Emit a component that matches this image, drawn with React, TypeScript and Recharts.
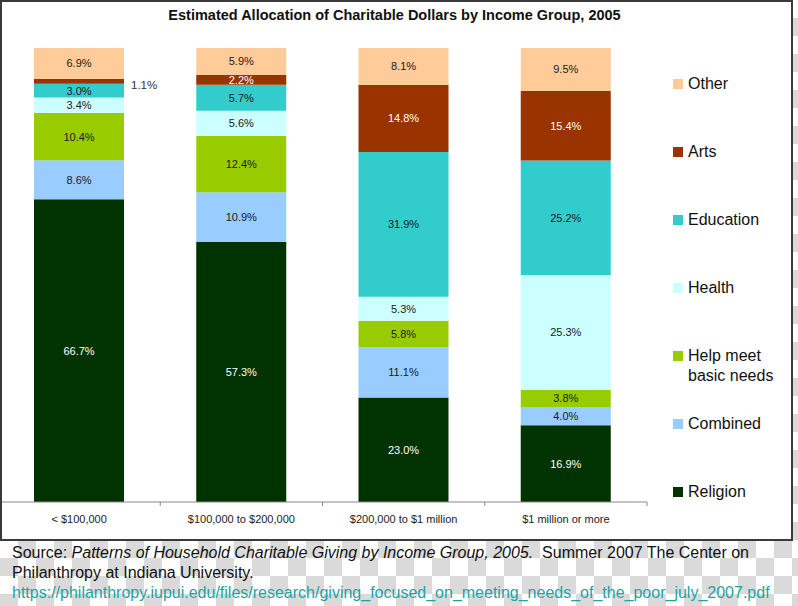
import React from 'react';
import { BarChart, Bar, XAxis, YAxis, LabelList } from 'recharts';

const groups = ['< $100,000', '$100,000 to $200,000', '$200,000 to $1 million', '$1 million or more'];

const religion = [66.7, 57.3, 23.0, 16.9];
const combined = [8.6, 10.9, 11.1, 4.0];
const basicNeeds = [10.4, 12.4, 5.8, 3.8];
const health = [3.4, 5.6, 5.3, 25.3];
const education = [3.0, 5.7, 31.9, 25.2];
const arts = [1.1, 2.2, 14.8, 15.4];
const other = [6.9, 5.9, 8.1, 9.5];

// stacking order, bottom to top
const series = [
  { key: 'religion', name: 'Religion', values: religion, fill: '#003300', text: '#ffffff' },
  { key: 'combined', name: 'Combined', values: combined, fill: '#99CCFF', text: '#1a1a1a' },
  { key: 'basicNeeds', name: 'Help meet basic needs', values: basicNeeds, fill: '#99CC00', text: '#1a1a1a' },
  { key: 'health', name: 'Health', values: health, fill: '#CCFFFF', text: '#1a1a1a' },
  { key: 'education', name: 'Education', values: education, fill: '#33CCCC', text: '#1a1a1a' },
  { key: 'arts', name: 'Arts', values: arts, fill: '#993300', text: '#ffffff' },
  { key: 'other', name: 'Other', values: other, fill: '#FFCC99', text: '#1a1a1a' },
];

const data = groups.map((g, i) => {
  const row: any = { group: g };
  series.forEach((s) => (row[s.key] = s.values[i]));
  return row;
});

const FONT = '"Liberation Sans", Arial, sans-serif';
const CHART_W = 789;
const CHART_H = 537;
const MARGIN = { top: 46, right: 144, left: -4, bottom: 0 };
const BAND = (CHART_W - MARGIN.left - MARGIN.right) / groups.length;

const makeLabel = (color: string) => (props: any) => {
  const { x, y, width, height, value } = props;
  const small = height < 7;
  return (
    <text
      x={small ? x + width + 7 : x + width / 2}
      y={y + height / 2}
      dy={small ? 8 : 4}
      textAnchor={small ? 'start' : 'middle'}
      fill={small ? '#333' : color}
      fontSize={small ? 11.5 : 11}
      fontFamily={FONT}
    >
      {Number(value).toFixed(1)}%
    </text>
  );
};

const GroupTick = (props: any) => {
  const { x, y, payload } = props;
  return (
    <g>
      <line x1={x + BAND / 2} x2={x + BAND / 2} y1={y - 8} y2={y - 4} stroke="#888" />
      <text x={x} y={y + 13} textAnchor="middle" fontSize={11} fontFamily={FONT} fill="#222">
        {payload.value}
      </text>
    </g>
  );
};

const LegendBox = () => (
  <div style={{ fontFamily: FONT, fontSize: 16, color: '#111' }}>
    {[...series].reverse().map((s) => (
      <div key={s.key} style={{ height: 68, display: 'flex', alignItems: 'flex-start' }}>
        <span
          style={{
            display: 'inline-block',
            width: 10,
            height: 10,
            background: s.fill,
            marginTop: 5,
            marginRight: 5,
            flex: 'none',
          }}
        />
        <span style={{ lineHeight: '20px', width: 100 }}>{s.name}</span>
      </div>
    ))}
  </div>
);

export default function App() {
  return (
    <div
      style={{
        position: 'absolute',
        left: 0,
        top: 0,
        width: 798,
        height: 606,
        background: 'repeating-conic-gradient(#dadada 0% 25%, #ffffff 0% 50%) 0 0 / 36px 36px',
        fontFamily: FONT,
      }}
    >
      <div
        style={{
          position: 'absolute',
          left: 0,
          top: 0,
          width: 793,
          height: 541,
          border: '2px solid #3a3a3a',
          boxSizing: 'border-box',
          background: '#fff',
        }}
      >
        <div
          style={{
            position: 'absolute',
            top: 5,
            left: 0,
            width: 785,
            textAlign: 'center',
            fontWeight: 'bold',
            fontSize: 14.5,
            color: '#111',
          }}
        >
          Estimated Allocation of Charitable Dollars by Income Group, 2005
        </div>
        <BarChart width={CHART_W} height={CHART_H} data={data} margin={MARGIN} barSize={90}>
          <XAxis
            dataKey="group"
            height={37}
            axisLine={{ stroke: '#888' }}
            tickLine={false}
            tick={<GroupTick />}
            interval={0}
          />
          <YAxis hide domain={[0, 100]} allowDataOverflow />
          {series.map((s) => (
            <Bar key={s.key} dataKey={s.key} name={s.name} stackId="a" fill={s.fill} isAnimationActive={false}>
              <LabelList dataKey={s.key} content={makeLabel(s.text)} />
            </Bar>
          ))}
        </BarChart>
        <div style={{ position: 'absolute', left: 671, top: 72, width: 120 }}>
          <LegendBox />
        </div>
      </div>
      <div
        style={{
          position: 'absolute',
          left: 12,
          top: 543,
          fontSize: 16,
          lineHeight: '20px',
          color: '#111',
          width: 786,
        }}
      >
        Source: <i>Patterns of Household Charitable Giving by Income Group, 2005.</i>&nbsp; Summer 2007 The Center on
        <br />
        Philanthropy at Indiana University.
        <br />
        <span style={{ color: '#1fa3a3' }}>
          https://philanthropy.iupui.edu/files/research/giving_focused_on_meeting_needs_of_the_poor_july_2007.pdf
        </span>
      </div>
    </div>
  );
}
